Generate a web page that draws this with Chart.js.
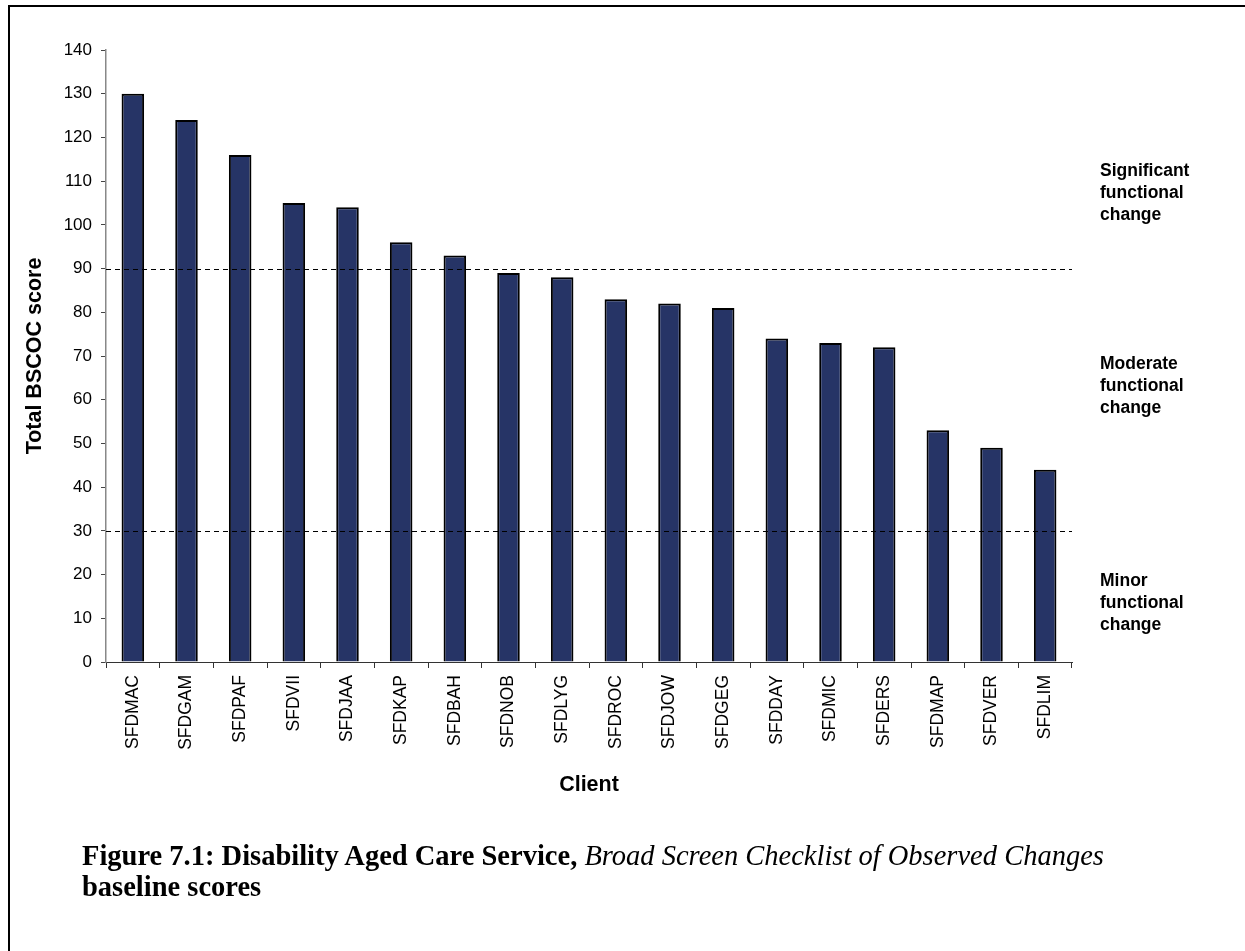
<!DOCTYPE html>
<html>
<head>
<meta charset="utf-8">
<script src="https://cdn.jsdelivr.net/npm/chart.js@4.4.1/dist/chart.umd.min.js"></script>
<style>
  html, body { margin: 0; padding: 0; background: #fff; }
  #wrap { position: relative; width: 1245px; height: 951px; overflow: hidden; }
  #frame { position: absolute; left: 8px; top: 5px; width: 1300px; height: 1000px;
           border-left: 2px solid #000; border-top: 2px solid #000; }
  #myChart { position: absolute; left: 0; top: 0; }
  #caption { position: absolute; left: 82px; top: 840px; width: 1150px;
             font-family: "Liberation Serif", "Times New Roman", serif; font-weight: bold;
             font-size: 28.5px; line-height: 31px; color: #000; white-space: nowrap; }
  #caption i { font-weight: normal; }
</style>
</head>
<body>
<div id="wrap">
  <div id="frame"></div>
  <canvas id="myChart" width="1245" height="951"></canvas>
  <div id="caption">Figure 7.1: Disability Aged Care Service, <i>Broad Screen Checklist of Observed Changes</i><br>baseline scores</div>
</div>
<script>
const clients = ['SFDMAC','SFDGAM','SFDPAF','SFDVII','SFDJAA','SFDKAP','SFDBAH','SFDNOB','SFDLYG',
  'SFDROC','SFDJOW','SFDGEG','SFDDAY','SFDMIC','SFDERS','SFDMAP','SFDVER','SFDLIM'];
const scores = [130,124,116,105,104,96,93,89,88,83,82,81,74,73,72,53,49,44];
const yTicks = [0,10,20,30,40,50,60,70,80,90,100,110,120,130,140];
const cutoffs = [90, 30];
const bandLabels = [
  ['Significant','functional','change'],
  ['Moderate','functional','change'],
  ['Minor','functional','change']
];

const sans = 'Arial, "Liberation Sans", sans-serif';

// dashed cut-off lines and the band names on the right
const bandPlugin = {
  id: 'bands',
  afterDatasetsDraw(chart) {
    const ctx = chart.ctx;
    const y = chart.scales.y;
    const area = chart.chartArea;
    ctx.save();
    ctx.strokeStyle = '#000';
    ctx.lineWidth = 1.2;
    ctx.setLineDash([5, 4]);
    for (const v of cutoffs) {
      const py = Math.round(y.getPixelForValue(v)) + 0.5;
      ctx.beginPath();
      ctx.moveTo(area.left, py);
      ctx.lineTo(area.right, py);
      ctx.stroke();
    }
    ctx.setLineDash([]);
    ctx.fillStyle = '#000';
    ctx.font = 'bold 17.5px ' + sans;
    ctx.textBaseline = 'middle';
    const mids = [107.3, 63, 13.5];
    bandLabels.forEach((lines, i) => {
      const cy = y.getPixelForValue(mids[i]);
      lines.forEach((t, k) => {
        ctx.fillText(t, 1100, cy + (k - 1) * 22);
      });
    });
    ctx.restore();
  }
};

const ctx = document.getElementById('myChart').getContext('2d');
const myChart = new Chart(ctx, {
  type: 'bar',
  plugins: [bandPlugin],
  data: {
    labels: clients,
    datasets: [{
      label: 'Total BSCOC score',
      data: scores,
      backgroundColor: '#263466',
      borderColor: '#000',
      borderWidth: 2,
      barPercentage: 0.42,
      categoryPercentage: 1
    }]
  },
  options: {
    responsive: false,
    animation: false,
    layout: { padding: { left: 0, top: 50, right: 173, bottom: 149 } },
    plugins: {
      legend: { display: false },
      tooltip: { enabled: false }
    },
    scales: {
      x: {
        afterFit: (scale) => { scale.height = 140; },
        grid: { drawOnChartArea: false, drawTicks: true, tickLength: 6, color: '#333', offset: true },
        border: { color: '#333', width: 1 },
        ticks: {
          color: '#000',
          font: { family: sans, size: 17.5 },
          minRotation: 90,
          maxRotation: 90,
          padding: 7,
          autoSkip: false
        },
        title: {
          display: true,
          text: 'Client',
          color: '#000',
          font: { family: sans, size: 21.5, weight: 'bold' },
          padding: { top: 4, bottom: 4 }
        }
      },
      y: {
        min: 0,
        max: 140,
        afterFit: (scale) => { scale.width = 106; },
        afterBuildTicks: (scale) => { scale.ticks = yTicks.map(v => ({ value: v })); },
        grid: { drawOnChartArea: false, drawTicks: true, tickLength: 5, color: '#444' },
        border: { color: '#888', width: 1.5 },
        ticks: {
          color: '#000',
          font: { family: sans, size: 17 },
          padding: 9
        },
        title: {
          display: true,
          text: 'Total BSCOC score',
          color: '#000',
          font: { family: sans, size: 21.5, weight: 'bold' },
          padding: { top: 22, bottom: 22 }
        }
      }
    }
  }
});
</script>
</body>
</html>
